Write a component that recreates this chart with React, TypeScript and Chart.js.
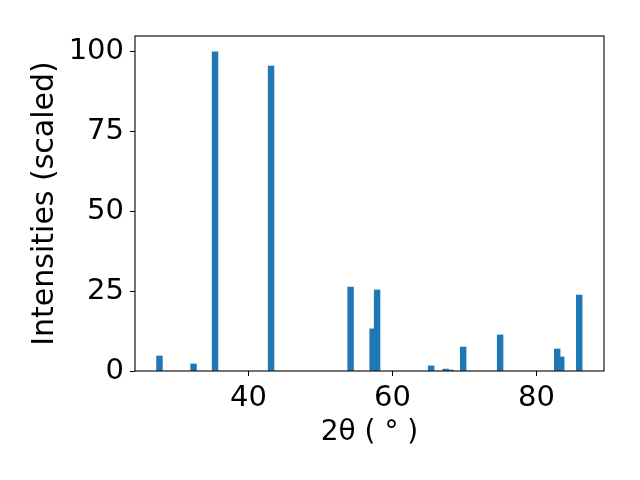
import React, { useEffect, useRef } from "react";
import { Chart, registerables } from "chart.js";

Chart.register(...registerables);

// 2θ positions (degrees) and scaled intensities
const twoTheta = [27.66, 32.39, 35.37, 43.15, 54.19, 57.25, 57.87, 65.37, 67.39, 68.08, 69.82, 74.95, 82.87, 83.43, 85.93];
const intensities = [4.7, 2.2, 100, 95.6, 26.3, 13.2, 25.4, 1.6, 0.6, 0.3, 7.5, 11.3, 6.9, 4.4, 23.8];
const xTicks = [40, 60, 80];
const yTicks = [0, 25, 50, 75, 100];
const xLabel = "2θ ( ° )";
const yLabel = "Intensities (scaled)";

const FONT = "'DejaVu Sans', sans-serif";

const framePlugin = {
  id: "frame",
  afterDraw(chart: any) {
    const { ctx, chartArea } = chart;
    ctx.save();
    ctx.strokeStyle = "#000";
    ctx.lineWidth = 1.1;
    ctx.strokeRect(chartArea.left, chartArea.top, chartArea.right - chartArea.left, chartArea.bottom - chartArea.top);
    ctx.restore();
  },
};

export default function App() {
  const ref = useRef<HTMLCanvasElement>(null);
  useEffect(() => {
    const chart = new Chart(ref.current!, {
      type: "bar",
      data: {
        datasets: [
          {
            data: twoTheta.map((x, i) => ({ x, y: intensities[i] })),
            backgroundColor: "#1f77b4",
            borderWidth: 0,
            barThickness: 5.8,
          },
        ],
      },
      options: {
        animation: false,
        responsive: false,
        devicePixelRatio: 1,
        layout: { padding: { top: 36, right: 36, left: 0, bottom: 0 } },
        plugins: { legend: { display: false }, tooltip: { enabled: false } },
        scales: {
          x: {
            type: "linear",
            offset: false,
            min: 24.26,
            max: 89.37,
            afterBuildTicks: (s: any) => {
              s.ticks = xTicks.map((v) => ({ value: v }));
            },
            afterFit: (s: any) => {
              s.height = 109;
            },
            grid: { offset: false, drawOnChartArea: false, drawTicks: true, tickLength: 5, color: "#000", lineWidth: 1 },
            border: { display: false },
            ticks: { color: "#000", font: { family: FONT, size: 29 }, padding: 5, maxRotation: 0 },
            title: {
              display: true,
              text: xLabel,
              color: "#000",
              font: { family: FONT, size: 28 },
              padding: { top: 0, bottom: 30 },
            },
          },
          y: {
            type: "linear",
            min: 0,
            max: 105,
            afterBuildTicks: (s: any) => {
              s.ticks = yTicks.map((v) => ({ value: v }));
            },
            afterFit: (s: any) => {
              s.width = 135;
            },
            grid: { drawOnChartArea: false, drawTicks: true, tickLength: 5, color: "#000", lineWidth: 1 },
            border: { display: false },
            ticks: { color: "#000", font: { family: FONT, size: 29 }, padding: 6 },
            title: {
              display: true,
              text: yLabel,
              color: "#000",
              font: { family: FONT, size: 30 },
              padding: { top: 27, bottom: 0 },
            },
          },
        },
      },
      plugins: [framePlugin],
    } as any);
    return () => chart.destroy();
  }, []);
  return (
    <div style={{ position: "absolute", left: 0, top: 0, width: 640, height: 480, background: "#fff" }}>
      <canvas ref={ref} width={640} height={480} />
    </div>
  );
}
